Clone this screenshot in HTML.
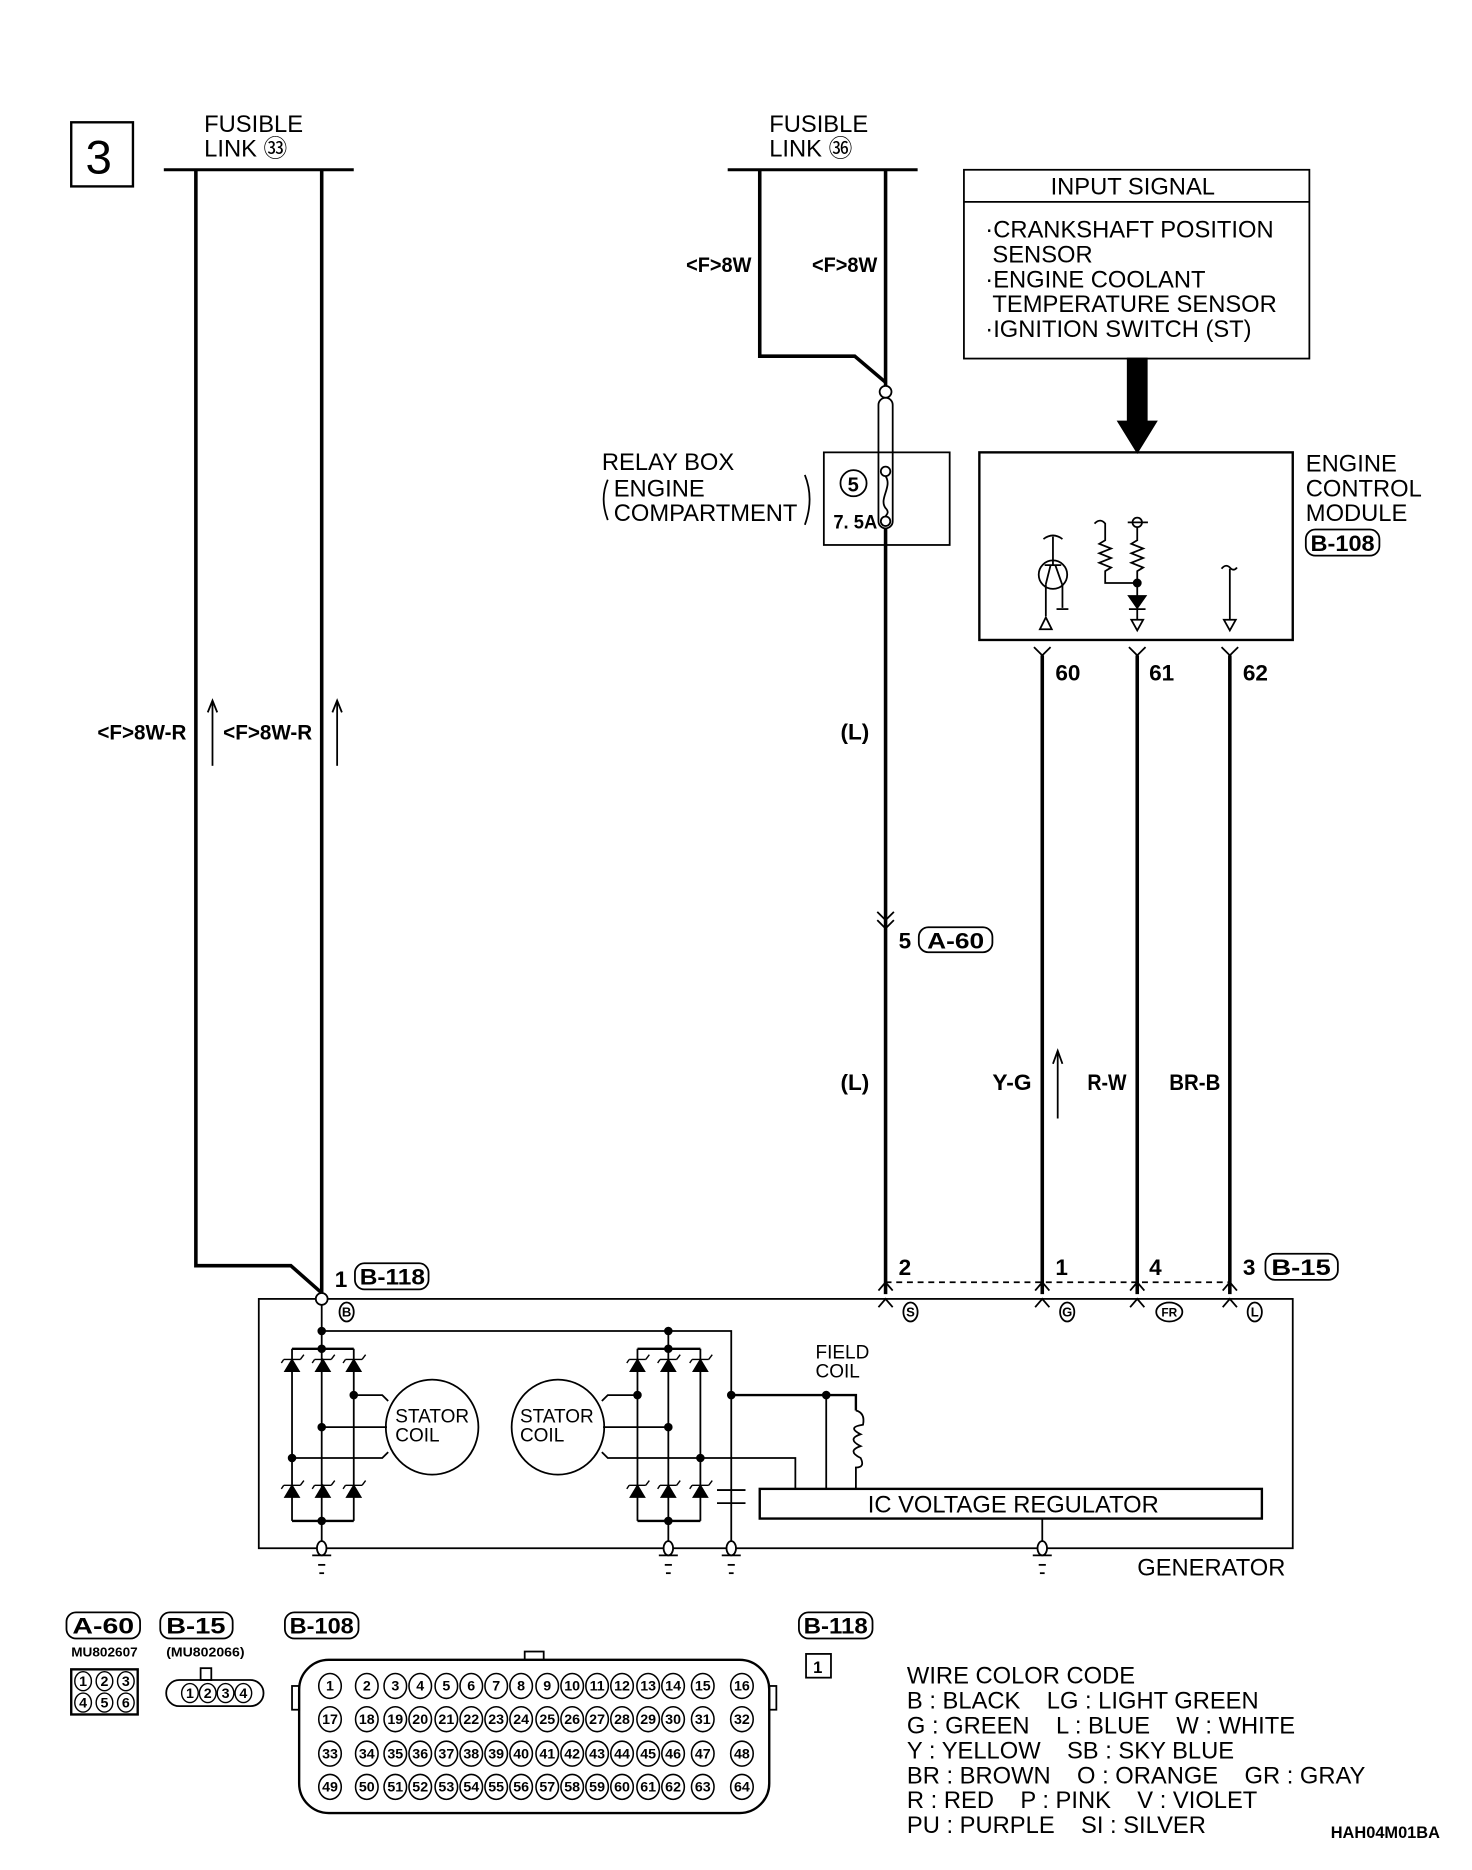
<!DOCTYPE html>
<html><head><meta charset="utf-8"><style>
html,body{margin:0;padding:0;background:#fff}
svg{display:block}
text{font-family:"Liberation Sans",sans-serif;fill:#000}
.c{font-family:"Liberation Sans Narrow","Liberation Sans",sans-serif;font-weight:bold}
.n{font-family:"Liberation Sans Narrow","Liberation Sans",sans-serif;font-weight:bold;text-anchor:middle;font-size:12px}
</style></head><body>
<svg width="1472" height="1870" viewBox="0 0 1240 1575" preserveAspectRatio="none" xmlns="http://www.w3.org/2000/svg">
<defs>
<g id="d"><polygon points="-6,9 6,9 0,-1"/><line x1="-7" y1="-1" x2="7" y2="-1"/><line x1="7" y1="-1" x2="10" y2="-5"/><line x1="-7" y1="-1" x2="-9" y2="2"/></g>
<ellipse id="pc" cx="0" cy="0" rx="9.5" ry="10.5" fill="none" stroke="#000" stroke-width="1.3"/>
<ellipse id="ps" cx="0" cy="0" rx="7" ry="8" fill="none" stroke="#000" stroke-width="1.2"/>
<g id="row">
<use href="#pc" x="278" y="0"/><use href="#pc" x="309" y="0"/><use href="#pc" x="333" y="0"/><use href="#pc" x="354" y="0"/><use href="#pc" x="376" y="0"/><use href="#pc" x="397" y="0"/><use href="#pc" x="418" y="0"/><use href="#pc" x="439" y="0"/><use href="#pc" x="461" y="0"/><use href="#pc" x="482" y="0"/><use href="#pc" x="503" y="0"/><use href="#pc" x="524" y="0"/><use href="#pc" x="546" y="0"/><use href="#pc" x="567" y="0"/><use href="#pc" x="592" y="0"/><use href="#pc" x="625" y="0"/>
</g>
</defs>
<g stroke="#000" fill="none" stroke-width="1.5">
<rect x="60" y="103" width="52" height="54" stroke-width="2"/>
<line x1="138" y1="143" x2="298" y2="143" stroke-width="2.5"/>
<line x1="613" y1="143" x2="773" y2="143" stroke-width="2.5"/>
<polyline points="165,143 165,1066 245,1066 271,1089" stroke-width="3"/>
<line x1="271" y1="143" x2="271" y2="1089" stroke-width="3"/>
<line x1="179" y1="592" x2="179" y2="645"/><polyline points="175,600 179,590 183,600"/>
<line x1="284" y1="592" x2="284" y2="645"/><polyline points="280,600 284,590 288,600"/>
<polyline points="640,143 640,300 720,300 746,322" stroke-width="3"/>
<line x1="746" y1="143" x2="746" y2="325" stroke-width="3"/>
<circle cx="746" cy="330" r="5" fill="#fff"/>
<rect x="740" y="335" width="12" height="110" rx="6"/>
<rect x="694" y="381" width="106" height="78"/>
<circle cx="719" cy="407" r="11"/>
<circle cx="746" cy="397" r="4" fill="#fff"/>
<circle cx="746" cy="439" r="4" fill="#fff"/>
<path d="M746,401 C752,410 740,420 746,428 C750,432 746,434 746,435"/>
<path d="M512,404 Q505,420 512,438"/><path d="M678,400 Q686,420 678,442"/>
<line x1="746" y1="445" x2="746" y2="1090" stroke-width="3"/>
<polyline points="739,768 746,775 753,768"/><polyline points="739,775 746,782 753,775"/>
<rect x="774" y="781" width="62" height="21" rx="8"/>
<rect x="812" y="143" width="291" height="159"/>
<line x1="812" y1="170" x2="1103" y2="170"/>
<rect x="950" y="302" width="16" height="54" fill="#000"/>
<polygon points="942,355 974,355 958,381" fill="#000"/>
<rect x="825" y="381" width="264" height="158" stroke-width="2"/>
<rect x="1100" y="446" width="62" height="22" rx="8"/>
<circle cx="887" cy="484" r="12"/>
<path d="M879,454 Q887,448 895,454"/><line x1="887" y1="452" x2="887" y2="476"/>
<line x1="880" y1="476" x2="894" y2="476"/><line x1="885" y1="476" x2="881" y2="492"/><line x1="889" y1="476" x2="895" y2="493"/>
<line x1="881" y1="492" x2="881" y2="519"/><polygon points="876,530 886,530 881,520"/>
<line x1="895" y1="493" x2="895" y2="512"/><line x1="890" y1="513" x2="900" y2="513"/>
<path d="M922,441 Q927,436 931,441 L931,455 L926,458 L936,462 L926,466 L936,470 L926,474 L936,478 L931,481 L931,491 L958,491"/>
<circle cx="958" cy="440" r="4"/><line x1="950" y1="440" x2="967" y2="440"/>
<path d="M958,444 L958,455 L953,458 L963,462 L953,466 L963,470 L953,474 L963,478 L958,481 L958,505"/>
<circle cx="958" cy="491" r="3" fill="#000"/>
<polygon points="951,502 965,502 958,512" fill="#000"/><line x1="951" y1="513" x2="965" y2="513"/>
<line x1="958" y1="513" x2="958" y2="522"/><polygon points="953,522 963,522 958,531"/>
<path d="M1029,479 Q1033,474 1037,479 Q1040,481 1042,478"/><line x1="1036" y1="479" x2="1036" y2="522"/><polygon points="1031,522 1041,522 1036,531"/>
<polyline points="871,545 878,552 885,545"/><polyline points="951,545 958,552 965,545"/><polyline points="1029,545 1036,552 1043,545"/>
<line x1="878" y1="552" x2="878" y2="1090" stroke-width="3"/>
<line x1="958" y1="552" x2="958" y2="1090" stroke-width="3"/>
<line x1="1036" y1="552" x2="1036" y2="1090" stroke-width="3"/>
<line x1="891" y1="887" x2="891" y2="942"/><polyline points="887,896 891,885 895,896"/>
<line x1="746" y1="1080" x2="1036" y2="1080" stroke-dasharray="5,4"/>
<rect x="1066" y="1056" width="61" height="22" rx="8"/>
<rect x="299" y="1064" width="62" height="22" rx="8"/>
<polyline points="740,1087 746,1080 752,1087"/><polyline points="872,1087 878,1080 884,1087"/><polyline points="952,1087 958,1080 964,1087"/><polyline points="1030,1087 1036,1080 1042,1087"/>
<polyline points="740,1101 746,1094 752,1101"/><polyline points="872,1101 878,1094 884,1101"/><polyline points="952,1101 958,1094 964,1101"/><polyline points="1030,1101 1036,1094 1042,1101"/>
<rect x="218" y="1094" width="871" height="210"/>
<circle cx="271" cy="1094" r="5" fill="#fff"/>
<ellipse cx="292" cy="1105" rx="6" ry="8"/><ellipse cx="767" cy="1105" rx="6" ry="8"/><ellipse cx="899" cy="1105" rx="6" ry="8"/><ellipse cx="985" cy="1105" rx="11" ry="8"/><ellipse cx="1057" cy="1105" rx="6" ry="8"/>
<line x1="271" y1="1099" x2="271" y2="1300"/>
<polyline points="271,1121 616,1121 616,1300"/>
<line x1="563" y1="1121" x2="563" y2="1300"/>
<line x1="246" y1="1136" x2="298" y2="1136" stroke-width="2"/><line x1="246" y1="1136" x2="246" y2="1281"/><line x1="298" y1="1136" x2="298" y2="1281"/><line x1="246" y1="1281" x2="298" y2="1281" stroke-width="2"/>
<line x1="537" y1="1136" x2="590" y2="1136" stroke-width="2"/><line x1="537" y1="1136" x2="537" y2="1281"/><line x1="590" y1="1136" x2="590" y2="1281"/><line x1="537" y1="1281" x2="590" y2="1281" stroke-width="2"/>
<ellipse cx="364" cy="1202" rx="39" ry="40"/><ellipse cx="470" cy="1202" rx="39" ry="40"/>
<polyline points="298,1175 322,1175 327,1180"/><line x1="272" y1="1202" x2="326" y2="1202"/><polyline points="246,1228 322,1228 327,1223"/>
<polyline points="537,1175 512,1175 507,1180"/><line x1="508" y1="1202" x2="563" y2="1202"/><polyline points="507,1223 512,1228 670,1228 670,1254"/>
<polyline points="616,1175 721,1175 721,1188" stroke-width="2"/><line x1="696" y1="1175" x2="696" y2="1254"/>
<path d="M721,1188 Q729,1190 727,1200 Q713,1202 725,1208 Q713,1212 725,1218 Q713,1222 725,1228 Q729,1236 721,1236 L721,1254"/>
<line x1="604" y1="1255" x2="628" y2="1255"/><line x1="604" y1="1266" x2="628" y2="1266"/>
<rect x="640" y="1254" width="423" height="25" stroke-width="2"/>
<line x1="878" y1="1279" x2="878" y2="1300"/>
<ellipse cx="271" cy="1304" rx="4" ry="6" fill="#fff"/><ellipse cx="563" cy="1304" rx="4" ry="6" fill="#fff"/><ellipse cx="616" cy="1304" rx="4" ry="6" fill="#fff"/><ellipse cx="878" cy="1304" rx="4" ry="6" fill="#fff"/>
<line x1="263" y1="1310" x2="279" y2="1310"/><line x1="268" y1="1318" x2="274" y2="1318"/><line x1="269" y1="1325" x2="273" y2="1325"/>
<line x1="555" y1="1310" x2="571" y2="1310"/><line x1="560" y1="1318" x2="566" y2="1318"/><line x1="561" y1="1325" x2="565" y2="1325"/>
<line x1="608" y1="1310" x2="624" y2="1310"/><line x1="613" y1="1318" x2="619" y2="1318"/><line x1="614" y1="1325" x2="618" y2="1325"/>
<line x1="870" y1="1310" x2="886" y2="1310"/><line x1="875" y1="1318" x2="881" y2="1318"/><line x1="876" y1="1325" x2="880" y2="1325"/>
</g>
<g fill="#000" stroke="#000" stroke-width="1.2">
<use href="#d" x="246" y="1146"/><use href="#d" x="272" y="1146"/><use href="#d" x="298" y="1146"/>
<use href="#d" x="246" y="1252"/><use href="#d" x="272" y="1252"/><use href="#d" x="298" y="1252"/>
<use href="#d" x="537" y="1146"/><use href="#d" x="563" y="1146"/><use href="#d" x="590" y="1146"/>
<use href="#d" x="537" y="1252"/><use href="#d" x="563" y="1252"/><use href="#d" x="590" y="1252"/>
<circle cx="271" cy="1121" r="3"/><circle cx="271" cy="1136" r="3"/><circle cx="271" cy="1202" r="3"/><circle cx="246" cy="1228" r="3"/><circle cx="298" cy="1175" r="3"/><circle cx="271" cy="1281" r="3"/>
<circle cx="563" cy="1121" r="3"/><circle cx="563" cy="1136" r="3"/><circle cx="563" cy="1202" r="3"/><circle cx="590" cy="1228" r="3"/><circle cx="537" cy="1175" r="3"/><circle cx="563" cy="1281" r="3"/>
<circle cx="616" cy="1175" r="3"/><circle cx="696" cy="1175" r="3"/>
</g>
<text x="72" y="146" font-size="40">3</text>
<text x="172" y="111" font-size="20">FUSIBLE</text><text x="172" y="132" font-size="20">LINK ㉝</text>
<text x="648" y="111" font-size="20">FUSIBLE</text><text x="648" y="132" font-size="20">LINK ㊱</text>
<text class="c" x="82" y="623" font-size="18" textLength="75" lengthAdjust="spacingAndGlyphs">&lt;F&gt;8W-R</text><text class="c" x="188" y="623" font-size="18" textLength="75" lengthAdjust="spacingAndGlyphs">&lt;F&gt;8W-R</text>
<text class="c" x="578" y="229" font-size="18" textLength="55" lengthAdjust="spacingAndGlyphs">&lt;F&gt;8W</text><text class="c" x="684" y="229" font-size="18" textLength="55" lengthAdjust="spacingAndGlyphs">&lt;F&gt;8W</text>
<text x="507" y="396" font-size="20">RELAY BOX</text><text x="517" y="418" font-size="20">ENGINE</text><text x="517" y="439" font-size="20">COMPARTMENT</text>
<text class="c" x="714" y="414" font-size="17">5</text><text class="c" x="702" y="445" font-size="16" textLength="37" lengthAdjust="spacingAndGlyphs">7. 5A</text>
<text class="c" x="708" y="623" font-size="19">(L)</text><text class="c" x="708" y="918" font-size="19">(L)</text>
<text class="c" x="757" y="799" font-size="19">5</text><text class="c" x="781" y="799" font-size="19" textLength="48" lengthAdjust="spacingAndGlyphs">A-60</text>
<text x="885" y="164" font-size="20">INPUT SIGNAL</text>
<text x="830" y="200" font-size="20">·CRANKSHAFT POSITION</text><text x="836" y="221" font-size="20">SENSOR</text>
<text x="830" y="242" font-size="20">·ENGINE COOLANT</text><text x="836" y="263" font-size="20">TEMPERATURE SENSOR</text>
<text x="830" y="284" font-size="20">·IGNITION SWITCH (ST)</text>
<text x="1100" y="397" font-size="20">ENGINE</text><text x="1100" y="418" font-size="20">CONTROL</text><text x="1100" y="439" font-size="20">MODULE</text>
<text class="c" x="1104" y="464" font-size="19" textLength="54" lengthAdjust="spacingAndGlyphs">B-108</text>
<text class="c" x="889" y="573" font-size="19">60</text><text class="c" x="968" y="573" font-size="19">61</text><text class="c" x="1047" y="573" font-size="19">62</text>
<text class="c" x="836" y="918" font-size="19" textLength="33" lengthAdjust="spacingAndGlyphs">Y-G</text><text class="c" x="916" y="918" font-size="19" textLength="33" lengthAdjust="spacingAndGlyphs">R-W</text><text class="c" x="985" y="918" font-size="19" textLength="43" lengthAdjust="spacingAndGlyphs">BR-B</text>
<text class="c" x="757" y="1074" font-size="19">2</text><text class="c" x="889" y="1074" font-size="19">1</text><text class="c" x="968" y="1074" font-size="19">4</text><text class="c" x="1047" y="1074" font-size="19">3</text>
<text class="c" x="1071" y="1074" font-size="19" textLength="50" lengthAdjust="spacingAndGlyphs">B-15</text>
<text class="c" x="282" y="1084" font-size="19">1</text><text class="c" x="303" y="1082" font-size="19" textLength="55" lengthAdjust="spacingAndGlyphs">B-118</text>
<text class="n" x="292" y="1109" style="font-size:11px">B</text><text class="n" x="767" y="1109" style="font-size:11px">S</text><text class="n" x="899" y="1109" style="font-size:11px">G</text><text class="n" x="985" y="1109" style="font-size:10px">FR</text><text class="n" x="1057" y="1109" style="font-size:11px">L</text>
<text x="687" y="1144" font-size="16">FIELD</text><text x="687" y="1160" font-size="16">COIL</text>
<text x="333" y="1198" font-size="16">STATOR</text><text x="333" y="1214" font-size="16">COIL</text>
<text x="438" y="1198" font-size="16">STATOR</text><text x="438" y="1214" font-size="16">COIL</text>
<text x="731" y="1274" font-size="20">IC VOLTAGE REGULATOR</text>
<text x="958" y="1327" font-size="20">GENERATOR</text>
<g stroke="#000" fill="none" stroke-width="1.5">
<rect x="56" y="1358" width="62" height="22" rx="8"/><rect x="135" y="1358" width="61" height="22" rx="8"/><rect x="240" y="1358" width="62" height="22" rx="8"/><rect x="673" y="1358" width="62" height="22" rx="8"/>
<rect x="60" y="1406" width="56" height="38" stroke-width="2"/>
<rect x="140" y="1415" width="82" height="22" rx="11"/><rect x="169" y="1405" width="9" height="10"/>
<rect x="252" y="1398" width="396" height="129" rx="25" stroke-width="2"/><rect x="442" y="1391" width="16" height="7"/>
<rect x="246" y="1420" width="6" height="20"/><rect x="648" y="1420" width="6" height="20"/>
<rect x="679" y="1393" width="21" height="20"/>
</g>
<text class="c" x="61" y="1376" font-size="19" textLength="52" lengthAdjust="spacingAndGlyphs">A-60</text><text class="c" x="140" y="1376" font-size="19" textLength="50" lengthAdjust="spacingAndGlyphs">B-15</text><text class="c" x="244" y="1376" font-size="19" textLength="54" lengthAdjust="spacingAndGlyphs">B-108</text><text class="c" x="677" y="1376" font-size="19" textLength="54" lengthAdjust="spacingAndGlyphs">B-118</text>
<text class="c" x="60" y="1395" font-size="11" textLength="56" lengthAdjust="spacingAndGlyphs">MU802607</text><text class="c" x="140" y="1395" font-size="11" textLength="66" lengthAdjust="spacingAndGlyphs">(MU802066)</text>
<use href="#ps" x="70" y="1416"/><use href="#ps" x="88" y="1416"/><use href="#ps" x="106" y="1416"/>
<use href="#ps" x="70" y="1434"/><use href="#ps" x="88" y="1434"/><use href="#ps" x="106" y="1434"/>
<text class="n" x="70" y="1420">1</text><text class="n" x="88" y="1420">2</text><text class="n" x="106" y="1420">3</text>
<text class="n" x="70" y="1438">4</text><text class="n" x="88" y="1438">5</text><text class="n" x="106" y="1438">6</text>
<use href="#ps" x="160" y="1426"/><use href="#ps" x="175" y="1426"/><use href="#ps" x="190" y="1426"/><use href="#ps" x="205" y="1426"/>
<text class="n" x="160" y="1430">1</text><text class="n" x="175" y="1430">2</text><text class="n" x="190" y="1430">3</text><text class="n" x="205" y="1430">4</text>
<text class="c" x="685" y="1409" font-size="14">1</text>
<use href="#row" y="1420"/>
<use href="#row" y="1448"/>
<use href="#row" y="1477"/>
<use href="#row" y="1505"/>
<g class="n">
<text x="278" y="1424">1</text><text x="309" y="1424">2</text><text x="333" y="1424">3</text><text x="354" y="1424">4</text><text x="376" y="1424">5</text><text x="397" y="1424">6</text><text x="418" y="1424">7</text><text x="439" y="1424">8</text><text x="461" y="1424">9</text><text x="482" y="1424">10</text><text x="503" y="1424">11</text><text x="524" y="1424">12</text><text x="546" y="1424">13</text><text x="567" y="1424">14</text><text x="592" y="1424">15</text><text x="625" y="1424">16</text>
<text x="278" y="1452">17</text><text x="309" y="1452">18</text><text x="333" y="1452">19</text><text x="354" y="1452">20</text><text x="376" y="1452">21</text><text x="397" y="1452">22</text><text x="418" y="1452">23</text><text x="439" y="1452">24</text><text x="461" y="1452">25</text><text x="482" y="1452">26</text><text x="503" y="1452">27</text><text x="524" y="1452">28</text><text x="546" y="1452">29</text><text x="567" y="1452">30</text><text x="592" y="1452">31</text><text x="625" y="1452">32</text>
<text x="278" y="1481">33</text><text x="309" y="1481">34</text><text x="333" y="1481">35</text><text x="354" y="1481">36</text><text x="376" y="1481">37</text><text x="397" y="1481">38</text><text x="418" y="1481">39</text><text x="439" y="1481">40</text><text x="461" y="1481">41</text><text x="482" y="1481">42</text><text x="503" y="1481">43</text><text x="524" y="1481">44</text><text x="546" y="1481">45</text><text x="567" y="1481">46</text><text x="592" y="1481">47</text><text x="625" y="1481">48</text>
<text x="278" y="1509">49</text><text x="309" y="1509">50</text><text x="333" y="1509">51</text><text x="354" y="1509">52</text><text x="376" y="1509">53</text><text x="397" y="1509">54</text><text x="418" y="1509">55</text><text x="439" y="1509">56</text><text x="461" y="1509">57</text><text x="482" y="1509">58</text><text x="503" y="1509">59</text><text x="524" y="1509">60</text><text x="546" y="1509">61</text><text x="567" y="1509">62</text><text x="592" y="1509">63</text><text x="625" y="1509">64</text>
</g>
<g font-size="20">
<text x="764" y="1418">WIRE COLOR CODE</text>
<text x="764" y="1439">B : BLACK &#160;&#160; LG : LIGHT GREEN</text>
<text x="764" y="1460">G : GREEN &#160;&#160; L : BLUE &#160;&#160; W : WHITE</text>
<text x="764" y="1481">Y : YELLOW &#160;&#160; SB : SKY BLUE</text>
<text x="764" y="1502">BR : BROWN &#160;&#160; O : ORANGE &#160;&#160; GR : GRAY</text>
<text x="764" y="1523">R : RED &#160;&#160; P : PINK &#160;&#160; V : VIOLET</text>
<text x="764" y="1544">PU : PURPLE &#160;&#160; SI : SILVER</text>
</g>
<text class="c" x="1121" y="1548" font-size="14" textLength="92" lengthAdjust="spacingAndGlyphs">HAH04M01BA</text>
</svg>
</body></html>
